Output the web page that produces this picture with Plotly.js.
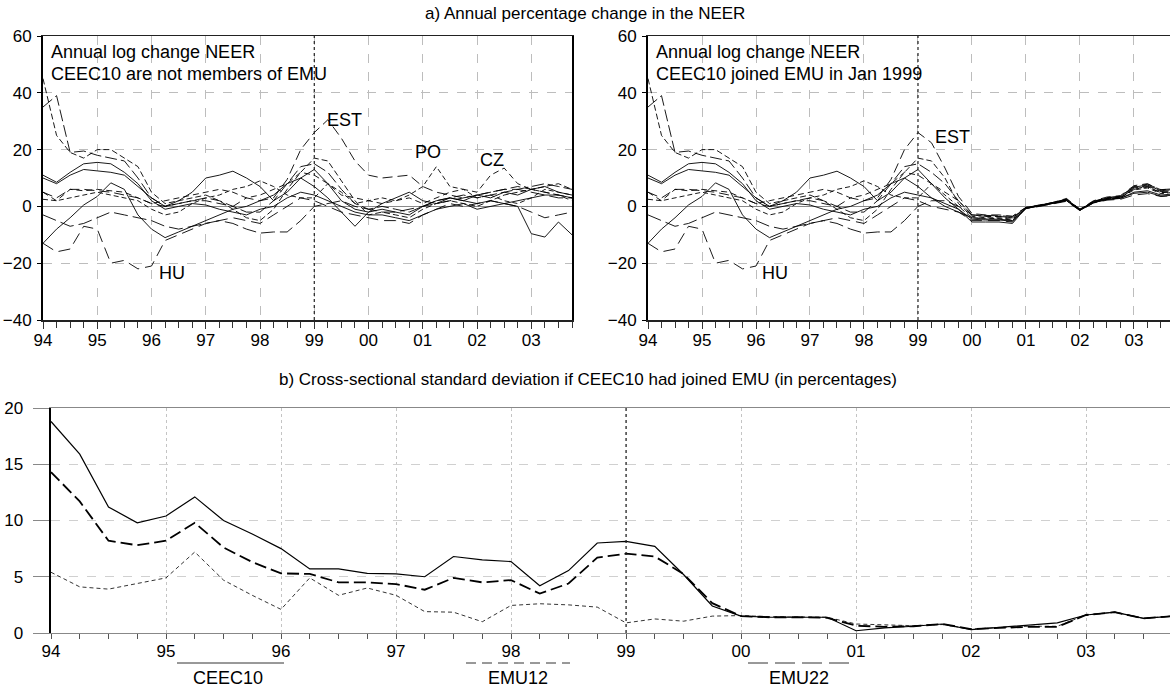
<!DOCTYPE html>
<html>
<head>
<meta charset="utf-8">
<script src="https://cdn.plot.ly/plotly-3.0.1.min.js"></script>
<style>html,body{margin:0;padding:0;background:#fff;}#chart{width:1170px;height:688px;}</style>
</head>
<body>
<div id="chart"></div>
<script>
// Quarterly time axis, 1994Q1 .. 2003Q4
const quarters = [1994.00,1994.25,1994.50,1994.75,1995.00,1995.25,1995.50,1995.75,1996.00,1996.25,
                  1996.50,1996.75,1997.00,1997.25,1997.50,1997.75,1998.00,1998.25,1998.50,1998.75,
                  1999.00,1999.25,1999.50,1999.75,2000.00,2000.25,2000.50,2000.75,2001.00,2001.25,
                  2001.50,2001.75,2002.00,2002.25,2002.50,2002.75,2003.00,2003.25,2003.50,2003.75];
const yearTicks  = [1994,1995,1996,1997,1998,1999,2000,2001,2002,2003];
const yearLabels = ["94","95","96","97","98","99","00","01","02","03"];

// Panel a) left: annual log change of NEER, CEEC10 not members of EMU
const BG  = [35,39,19,19.5,18,17,16,10,3,0,1,2,3,2,0,-2,-2,2,8,14,15,12,6,1,-1,0,-1,-2,0,2,3,4,3,4,5,6,7,8,7,6];
const RO  = [45,25,19,17,20,20,17,14,5,1,2,3,4,2,-1,-4,-5,-1,6,12,17,16,9,2,-3,-2,-3,-4,-1,1,2,1,0,2,4,5,6,7,8,6];
const EST = [5,3,6,6,5.5,5,4,3,1,0,1,2,2,1,0,3,2,3,9.5,20,26,30.5,24,16,11,10,10.5,11,7,5,4,3,4,5,6,7,6,5,4,3];
const HU  = [-13,-16,-15,-7,-8,-20,-19,-22,-21,-12,-10,-8,-6,-5,-4,-5,-6,-3,0,3,2,0,-2,-3,-4,-5,-5,-6,-3,-1,1,0,1,2,1,0,-2,-4,-3,-2];
const SK  = [-13,-8,-4,0.5,3.5,8.3,6,-3,-8,-11,-9,-7,-5,-3,-1,0,2,4,8,10,7,3,-2,-7,-2,-1,-2,-3,0,2,3,2,4,3,5,4,6,7,5,4];
const SI  = [11,8.5,12,15,15.5,15,12,8,2,-1,0,1,0.5,-1,-2,-3,-1,0,3,5,4,2,0,-2,-3,-3,-4,-5,-3,-1,0,1,-1,0,1,2,3,4,4,3];
const LT  = [10,8,11,13,12.5,12,11,7,3,0,2,5,10,11,12.4,10,7,2,5,10,13,8,2,-1,-2,1,3,5,2,1,3,2,1,2,1,0,-9.6,-10.8,-5.5,-10];
const LV  = [-3,-5,-7,-6,-4,-2,-3,-4,-5,-7,-8,-7,-6,-5,-6,-8,-9.4,-9,-9,-5,0,1,2,0,-1,-2,-2,-1,0,1,2,3,4,5,6,6,5,4,3,3];
const PO  = [2.5,2,3,4,5,4,3,2,-1,-3,-2,1,3,4,6,7,9,7,4,3,3,8,5,1,2,3,2,4,7,14,7,6,3,4,2,1,3,6,5,4];
const CZ  = [5,2,6,5.5,6,5.5,5,3,1,2,3,4,5,6,5,3,4,6,8,12,11,8,4,3,2,1,2,3,1,3,5,6,5,11,13.5,8,6,5,4,2];

// Panel a) right: values from 1999Q2 on if CEEC10 joined EMU in Jan 1999
const BG_R  = [12,8,2,-3,-3.5,-3.5,-4,-0.5,0.3,1.2,2.3,-1.2,1.6,2.8,3.2,6.5,7.2,5.2,5.6];
const RO_R  = [16,10,1,-3.5,-4,-4,-4.5,-0.6,0.2,1.1,2.1,-1.3,1.4,2.6,3,6.2,7,4.8,5.4];
const EST_R = [22.4,13.5,3.5,-2.5,-3,-3,-3.5,-0.3,0.5,1.4,2.8,-1,2,3.3,3.8,7.3,8,5.8,6.3];
const HU_R  = [0,-1,-2,-5,-5,-5,-5.5,-0.8,0,1,1.8,-1.5,1.2,2.2,2.5,4,4.5,3.5,3.8];
const SK_R  = [3,0,-2,-4,-4.5,-4.5,-5,-0.7,0.1,1,2,-1.4,1.3,2.4,2.8,5,5.5,4,4.4];
const SI_R  = [3,1,-1,-4.5,-4.8,-4.8,-5.2,-0.6,0.2,1.1,2.1,-1.3,1.3,2.5,2.9,4.6,5,3.6,4];
const LT_R  = [8,3,-1,-5.5,-5.5,-5.5,-6,-0.5,0.3,1.3,2.5,-1.1,1.7,3,3.5,6.8,7.5,5.5,6];
const LV_R  = [2,2,0,-3,-3.2,-3.3,-3.5,-0.4,0.4,1.3,2.6,-1,1.8,3.1,3.6,7,7.8,5.9,6.2];
const PO_R  = [8,4,0,-4,-4.2,-4.3,-4.8,-0.6,0.2,1.2,2.2,-1.2,1.5,2.7,3.1,5.8,6.5,4.5,5];
const CZ_R  = [8,5,2,-3,-3.5,-3.6,-4,-0.5,0.3,1.2,2.4,-1.1,1.6,2.9,3.3,6,6.8,4.8,5.2];

// Panel b) cross-sectional standard deviation (%)
const CEEC10 = [18.8,15.9,11.2,9.8,10.4,12.1,10.0,8.8,7.5,5.7,5.7,5.3,5.25,5.0,6.8,6.5,6.35,4.2,5.55,8.0,8.15,7.7,5.2,2.4,1.5,1.4,1.4,1.4,0.2,0.45,0.6,0.8,0.3,0.5,0.75,0.9,1.6,1.85,1.3,1.5];
const EMU22  = [14.3,11.7,8.2,7.8,8.2,9.8,7.6,6.3,5.3,5.25,4.5,4.5,4.35,3.85,4.9,4.5,4.7,3.5,4.4,6.7,7.05,6.8,5.25,2.65,1.5,1.4,1.4,1.35,0.65,0.55,0.6,0.8,0.35,0.45,0.55,0.55,1.6,1.85,1.3,1.5];
const EMU12  = [5.4,4.1,3.9,4.4,4.9,7.2,4.7,3.35,2.1,4.9,3.35,4.0,3.35,1.9,1.85,1.0,2.45,2.6,2.5,2.3,0.9,1.25,1.05,1.5,1.55,1.45,1.4,1.4,0.8,0.7,0.65,0.75,0.35,0.5,0.6,0.6,1.6,1.85,1.3,1.5];

const countries = [
  {name:"BG",  left:BG,  post:BG_R,  dash:"12px,4px"},
  {name:"RO",  left:RO,  post:RO_R,  dash:"6px,3px"},
  {name:"EST", left:EST, post:EST_R, dash:"10px,5px"},
  {name:"HU",  left:HU,  post:HU_R,  dash:"12px,6px"},
  {name:"SK",  left:SK,  post:SK_R,  dash:"solid"},
  {name:"SI",  left:SI,  post:SI_R,  dash:"solid"},
  {name:"LT",  left:LT,  post:LT_R,  dash:"solid"},
  {name:"LV",  left:LV,  post:LV_R,  dash:"14px,5px"},
  {name:"PO",  left:PO,  post:PO_R,  dash:"5px,3px"},
  {name:"CZ",  left:CZ,  post:CZ_R,  dash:"6px,4px"}
];

const traces = [];
countries.forEach(c => {
  traces.push({x:quarters, y:c.left, xaxis:"x", yaxis:"y", type:"scatter", mode:"lines",
    name:c.name, line:{color:"#000", width:0.9, dash:c.dash}, hoverinfo:"skip"});
});
countries.forEach(c => {
  const yr = c.left.slice(0, 21).concat(c.post);
  traces.push({x:quarters, y:yr, xaxis:"x2", yaxis:"y2", type:"scatter", mode:"lines",
    name:c.name, line:{color:"#000", width:0.9, dash:c.dash}, hoverinfo:"skip"});
});
traces.push({x:quarters, y:CEEC10, xaxis:"x3", yaxis:"y3", type:"scatter", mode:"lines", name:"CEEC10",
  line:{color:"#000", width:1.2, dash:"solid"}, hoverinfo:"skip"});
traces.push({x:quarters, y:EMU22, xaxis:"x3", yaxis:"y3", type:"scatter", mode:"lines", name:"EMU22",
  line:{color:"#000", width:1.8, dash:"12px,5px"}, hoverinfo:"skip"});
traces.push({x:quarters, y:EMU12, xaxis:"x3", yaxis:"y3", type:"scatter", mode:"lines", name:"EMU12",
  line:{color:"#000", width:0.8, dash:"4px,3px"}, hoverinfo:"skip"});

const W = 1170, H = 688;
const px = v => v / W;
const py = v => 1 - v / H;

function topX(domain, range) {
  return {domain:domain, range:range, tickmode:"array", tickvals:yearTicks, ticktext:yearLabels,
    ticks:"outside", ticklen:7, tickwidth:1, tickcolor:"#333", ticklabelstandoff:-3,
    showline:true, linecolor:"#222", linewidth:1.5, mirror:true,
    showgrid:true, gridcolor:"#bdbdbd", griddash:"dash", gridwidth:1, zeroline:false,
    minor:{tickmode:"linear", tick0:1994, dtick:0.25, ticks:"outside", ticklen:6, tickwidth:1, tickcolor:"#333", showgrid:false},
    automargin:false, fixedrange:true, tickfont:{size:17}};
}
function topY(anchor) {
  return {domain:[py(320), py(36)], range:[-40,60], tickmode:"array", tickvals:[-40,-20,0,20,40,60],
    ticks:"outside", ticklen:4, tickcolor:"#000", ticklabelstandoff:2,
    showline:true, linecolor:"#000", linewidth:2, mirror:true,
    showgrid:true, gridcolor:"#bdbdbd", griddash:"dash", gridwidth:1,
    zeroline:true, zerolinecolor:"#8a8a8a", zerolinewidth:1.2,
    automargin:false, fixedrange:true, tickfont:{size:17}, anchor:anchor};
}

const xa1 = topX([px(43), px(572)], [1994, 2003.75]); xa1.anchor = "y";
const xa2 = topX([px(648), 1], [1994, 2003.667]); xa2.anchor = "y2";

const layout = {
  width:W, height:H, margin:{l:0, r:0, t:0, b:0},
  paper_bgcolor:"#fff", plot_bgcolor:"#fff", showlegend:false,
  font:{family:"Liberation Sans, Arial, Helvetica, sans-serif", size:17, color:"#000"},
  xaxis:xa1, yaxis:topY("x"),
  xaxis2:xa2, yaxis2:topY("x2"),
  xaxis3:{domain:[px(51), 1], range:[1994, 2003.73], anchor:"y3",
    tickmode:"array", tickvals:yearTicks, ticktext:yearLabels,
    ticks:"outside", ticklen:5, tickwidth:1, tickcolor:"#555", ticklabelstandoff:-3,
    showline:true, linecolor:"#888", linewidth:1.2, mirror:true,
    showgrid:true, gridcolor:"#c4c4c4", griddash:"dot", gridwidth:1, zeroline:false,
    minor:{tickmode:"linear", tick0:1994, dtick:0.25, ticks:"outside", ticklen:5, tickwidth:1, tickcolor:"#555", showgrid:false},
    automargin:false, fixedrange:true, tickfont:{size:17}},
  yaxis3:{domain:[py(633), py(408)], range:[0,20], anchor:"x3", tickmode:"array", tickvals:[0,5,10,15,20],
    ticks:"outside", ticklen:16, tickwidth:1, tickcolor:"#888", ticklabelstandoff:6,
    showline:true, linecolor:"#000", linewidth:2.5, mirror:false,
    showgrid:true, gridcolor:"#d0d0d0", griddash:"dash", gridwidth:1, zeroline:false,
    automargin:false, fixedrange:true, tickfont:{size:17}},
  shapes:[
    {type:"line", xref:"x", yref:"y domain", x0:1999, x1:1999, y0:0, y1:1, line:{color:"#222", width:1.2, dash:"dot"}},
    {type:"line", xref:"x2", yref:"y2 domain", x0:1999, x1:1999, y0:0, y1:1, line:{color:"#222", width:1.2, dash:"dot"}},
    {type:"line", xref:"x3", yref:"y3 domain", x0:1999, x1:1999, y0:0, y1:1, line:{color:"#222", width:1.2, dash:"dot"}},
    // legend samples under panel b
    {type:"line", xref:"paper", yref:"paper", x0:px(177), x1:px(284), y0:py(663), y1:py(663), line:{color:"#333", width:1, dash:"solid"}},
    {type:"line", xref:"paper", yref:"paper", x0:px(466), x1:px(570), y0:py(663), y1:py(663), line:{color:"#333", width:1, dash:"10px,6px"}},
    {type:"line", xref:"paper", yref:"paper", x0:px(748), x1:px(850), y0:py(663), y1:py(663), line:{color:"#333", width:1, dash:"20px,7px"}}
  ],
  annotations:[
    {text:"a) Annual percentage change in the NEER", xref:"paper", yref:"paper", x:0.5, y:py(13), xanchor:"center", yanchor:"middle", showarrow:false, font:{size:17}},
    {text:"b) Cross-sectional standard deviation if CEEC10 had joined EMU (in percentages)", xref:"paper", yref:"paper", x:px(588), y:py(379), xanchor:"center", yanchor:"middle", showarrow:false, font:{size:17}},
    {text:"Annual log change NEER", xref:"paper", yref:"paper", x:px(49), y:py(52), xanchor:"left", yanchor:"middle", showarrow:false, font:{size:18}},
    {text:"CEEC10 are not members of EMU", xref:"paper", yref:"paper", x:px(49), y:py(74), xanchor:"left", yanchor:"middle", showarrow:false, font:{size:18}},
    {text:"Annual log change NEER", xref:"paper", yref:"paper", x:px(654), y:py(52), xanchor:"left", yanchor:"middle", showarrow:false, font:{size:18}},
    {text:"CEEC10 joined EMU in Jan 1999", xref:"paper", yref:"paper", x:px(654), y:py(74), xanchor:"left", yanchor:"middle", showarrow:false, font:{size:18}},
    {text:"EST", xref:"x", yref:"y", x:1999.2, y:30.3, xanchor:"left", yanchor:"middle", showarrow:false, font:{size:18}},
    {text:"PO", xref:"x", yref:"y", x:2000.82, y:19, xanchor:"left", yanchor:"middle", showarrow:false, font:{size:18}},
    {text:"CZ", xref:"x", yref:"y", x:2002.02, y:16.5, xanchor:"left", yanchor:"middle", showarrow:false, font:{size:18}},
    {text:"HU", xref:"x", yref:"y", x:1996.1, y:-23.4, xanchor:"left", yanchor:"middle", showarrow:false, font:{size:18}},
    {text:"EST", xref:"x2", yref:"y2", x:1999.28, y:24.6, xanchor:"left", yanchor:"middle", showarrow:false, font:{size:18}},
    {text:"HU", xref:"x2", yref:"y2", x:1996.07, y:-23.4, xanchor:"left", yanchor:"middle", showarrow:false, font:{size:18}},
    {text:"CEEC10", xref:"paper", yref:"paper", x:px(228), y:py(678), xanchor:"center", yanchor:"middle", showarrow:false, font:{size:18}},
    {text:"EMU12", xref:"paper", yref:"paper", x:px(518), y:py(678), xanchor:"center", yanchor:"middle", showarrow:false, font:{size:18}},
    {text:"EMU22", xref:"paper", yref:"paper", x:px(799), y:py(678), xanchor:"center", yanchor:"middle", showarrow:false, font:{size:18}}
  ]
};

Plotly.newPlot("chart", traces, layout, {staticPlot:true, displayModeBar:false});
</script>
</body>
</html>
